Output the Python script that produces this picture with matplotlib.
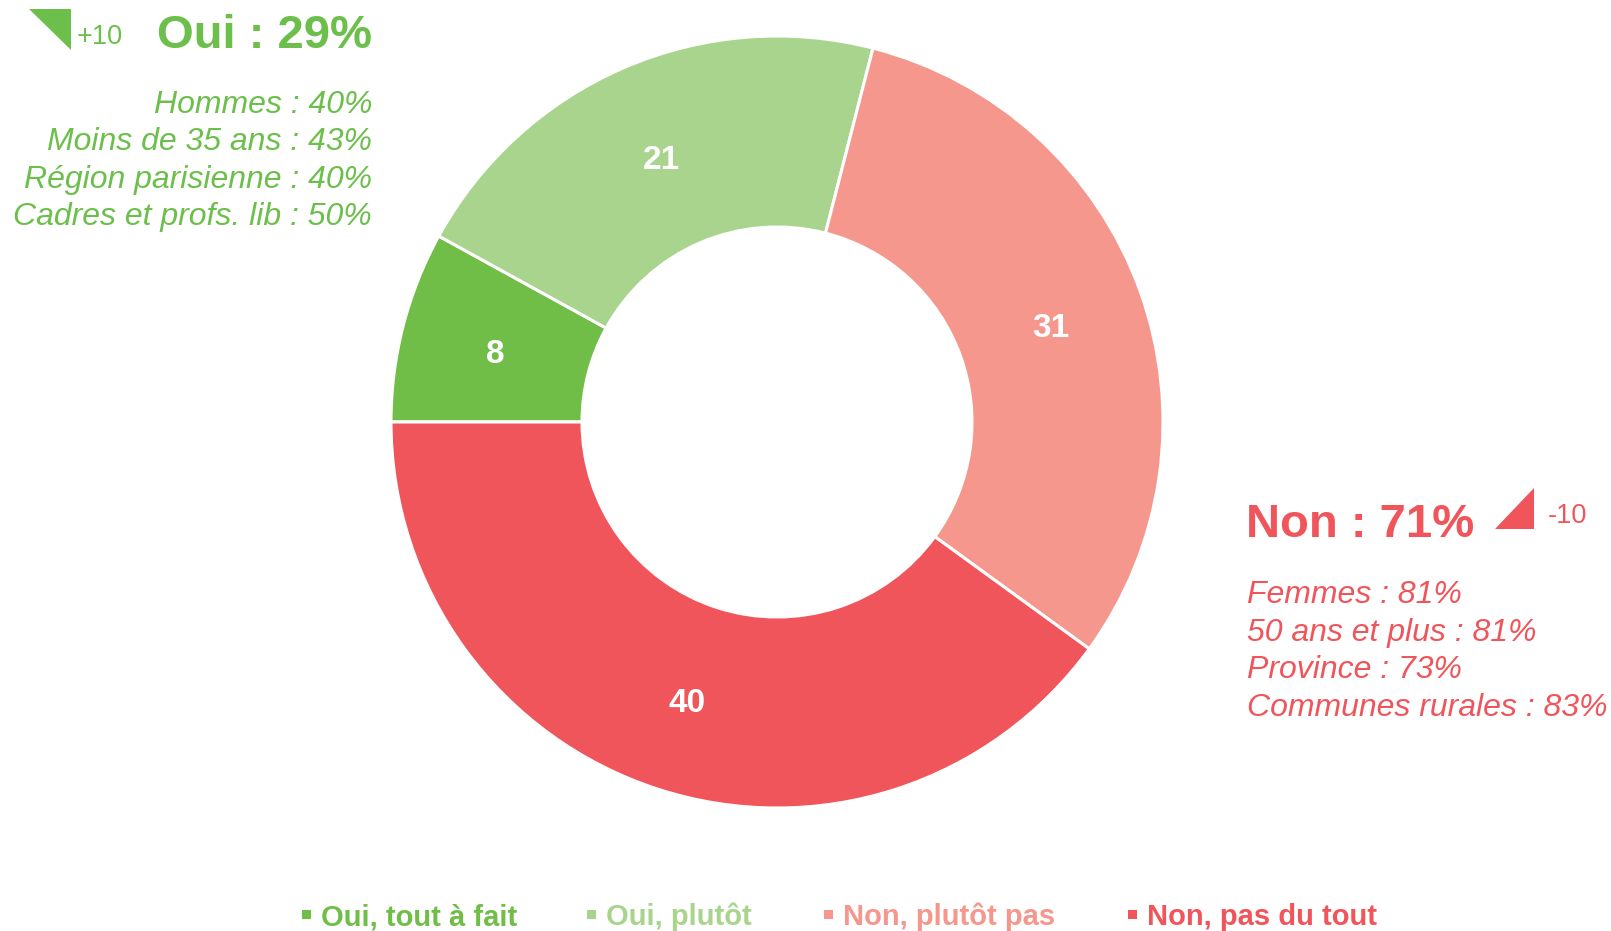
import matplotlib
matplotlib.use("Agg")
import matplotlib.pyplot as plt
from matplotlib.patches import Polygon

# data
categories = ["Oui, tout à fait", "Oui, plutôt", "Non, plutôt pas", "Non, pas du tout"]
values = [8, 21, 31, 40]
colors = ["#70BE48", "#A9D48E", "#F5978D", "#EF555A"]

oui_title = "Oui : 29%"
oui_delta = "+10"
oui_details = ["Hommes : 40%", "Moins de 35 ans : 43%",
               "Région parisienne : 40%", "Cadres et profs. lib : 50%"]
non_title = "Non : 71%"
non_delta = "-10"
non_details = ["Femmes : 81%", "50 ans et plus : 81%",
               "Province : 73%", "Communes rurales : 83%"]

GREEN = "#6CBF4B"
RED = "#EF555A"
W, H = 1611, 931
FONT = ["Liberation Sans", "DejaVu Sans"]

fig = plt.figure(figsize=(W / 100, H / 100), dpi=100)
ax = fig.add_axes([0, 0, 1, 1])

R, r_in = 386, 195
cx, cy = 777, H - 422
wedges, _, autotexts = ax.pie(
    values, colors=colors, startangle=180, counterclock=False,
    center=(cx, cy), radius=R,
    wedgeprops=dict(width=R - r_in, edgecolor="white", linewidth=2.2),
    autopct=lambda p: f"{p:.0f}", pctdistance=(R + r_in) / 2 / R,
    textprops=dict(color="white", fontsize=24, fontweight="bold", family=FONT))
for t in autotexts:
    x, y = t.get_position()
    t.set_position((x, y - 5))

ax.set_xlim(0, W)
ax.set_ylim(0, H)
ax.set_aspect("equal")
ax.axis("off")


def T(x, y_top, s, **kw):
    # y given in pixels from the top of the image
    kw.setdefault("family", FONT)
    return ax.text(x, H - y_top, s, **kw)


# Oui block (top left)
ax.add_patch(Polygon([(29, H - 9), (71, H - 9), (71, H - 50)], closed=True,
                     color=GREEN, lw=0))
T(77, 44, oui_delta, fontsize=19.5, color=GREEN, va="baseline", ha="left")
T(372, 48, oui_title, fontsize=34, fontweight="bold", color=GREEN,
  va="baseline", ha="right")
for i, s in enumerate(oui_details):
    T(372, 113 + 37.5 * i, s, fontsize=23, style="italic", color=GREEN,
      va="baseline", ha="right")

# Non block (right)
T(1246, 537, non_title, fontsize=34, fontweight="bold", color=RED,
  va="baseline", ha="left")
ax.add_patch(Polygon([(1495, H - 529), (1534, H - 529), (1534, H - 488)],
                     closed=True, color=RED, lw=0))
T(1548, 523, non_delta, fontsize=19.5, color=RED, va="baseline", ha="left")
for i, s in enumerate(non_details):
    T(1247, 603 + 37.5 * i, s, fontsize=23, style="italic", color=RED,
      va="baseline", ha="left")

# legend
leg_x = [306, 591, 828, 1132]
for x, lab, c in zip(leg_x, categories, colors):
    ax.add_patch(plt.Rectangle((x - 4.5, H - 919), 9, 9, color=c, lw=0))
    T(x + 15, 925, lab, fontsize=21, fontweight="bold", color=c,
      va="baseline", ha="left")

fig.savefig("out.png", dpi=100, facecolor="white")
